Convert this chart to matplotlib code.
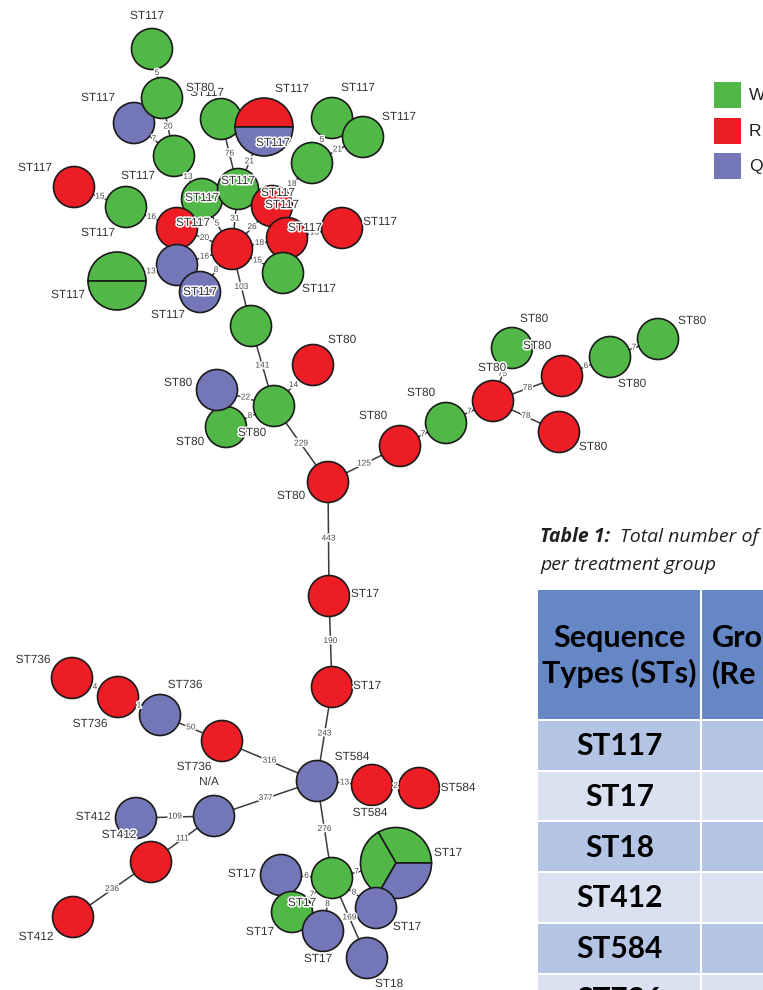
"""Minimum spanning tree of sequence types, coloured by treatment group,
with the legend and the first rows of Table 1 beside it."""

import matplotlib

matplotlib.use("Agg")
import matplotlib.pyplot as plt  # noqa: E402
import matplotlib.patheffects as pe  # noqa: E402
from matplotlib.patches import Circle, Rectangle, Wedge  # noqa: E402

# --- data -------------------------------------------------------------------
# isolates per node, one letter per isolate (W / R / Q treatment group)
node_ids = [f"n{i}" for i in range(1, 57)]
node_groups = ["W", "W", "Q", "W", "W", "RQ", "W", "W", "W", "W",
               "R", "R", "R", "R", "W", "W", "R", "W", "R", "Q",
               "Q", "WW", "W", "W", "R", "Q", "W", "R", "R", "R",
               "W", "R", "W", "R", "W", "W", "R", "R", "Q", "R",
               "R", "R", "Q", "R", "R", "Q", "Q", "R", "R", "W",
               "WWQ", "Q", "W", "Q", "Q", "Q"]

edge_src = ["n1", "n2", "n3", "n4", "n5", "n6", "n8", "n9", "n10", "n7",
            "n11", "n12", "n12", "n14", "n14", "n14", "n14", "n14", "n18", "n19",
            "n20", "n14", "n23", "n24", "n24", "n24", "n24", "n28", "n29", "n31",
            "n32", "n32", "n34", "n35", "n32", "n28", "n30", "n38", "n39", "n40",
            "n39", "n42", "n43", "n44", "n39", "n46", "n46", "n48", "n39", "n50",
            "n50", "n50", "n50", "n50", "n50"]
edge_dst = ["n2", "n4", "n4", "n16", "n7", "n7", "n10", "n10", "n11", "n14",
            "n14", "n14", "n13", "n15", "n21", "n20", "n17", "n16", "n17", "n18",
            "n22", "n23", "n24", "n25", "n26", "n27", "n28", "n29", "n31", "n32",
            "n33", "n34", "n35", "n36", "n37", "n30", "n38", "n39", "n40", "n41",
            "n42", "n43", "n44", "n45", "n46", "n47", "n48", "n49", "n50", "n51",
            "n52", "n53", "n54", "n55", "n56"]
edge_weight = [5, 20, 7, 13, 76, 21, 5, 21, 18, 31,
               26, 18, 15, 15, 8, 16, 20, 5, 16, 15,
               13, 103, 141, 14, 22, 8, 229, 125, 7, 7,
               75, 78, 6, 7, 78, 443, 190, 243, 13, 2,
               316, 50, 1, 4, 377, 109, 111, 236, 276, 7,
               6, 7, 8, 8, 169]

st_labels = ["ST117", "ST117", "ST117", "ST80", "ST117", "ST117", "ST117", "ST117",
             "ST117", "ST117", "ST117", "ST117", "ST117", "ST117", "ST117", "ST117",
             "ST117", "ST117", "ST117", "ST117", "ST117", "ST117",
             "ST80", "ST80", "ST80", "ST80", "ST80", "ST80", "ST17",
             "ST80", "ST80", "ST80", "ST80", "ST80", "ST80", "ST80",
             "ST17", "ST584", "ST584", "ST584", "ST736", "ST736", "ST736", "ST736",
             "N/A", "ST412", "ST412", "ST412",
             "ST17", "ST17", "ST17", "ST17", "ST17", "ST17", "ST18"]

legend_groups = ["W", "R", "Q"]

table_title_bold = "Table 1:"
table_title = "Total number of"
table_title_2 = "per treatment group"
table_header = ["Sequence\nTypes (STs)", "Group\n(Re"]
table_rows = ["ST117", "ST17", "ST18", "ST412", "ST584", "ST736"]

# --- layout (pixel space) ---------------------------------------------------
node_xy = {
    "n1": (152, 49), "n2": (162, 98), "n3": (134, 123), "n4": (174, 156),
    "n5": (221, 119), "n6": (264, 127), "n7": (238, 189), "n8": (332, 118),
    "n9": (363, 137), "n10": (312, 163), "n11": (272, 206), "n12": (287, 238),
    "n13": (342, 228), "n14": (232, 249), "n15": (283, 273), "n16": (202, 199),
    "n17": (177, 228), "n18": (126, 207), "n19": (74, 187), "n20": (177, 265),
    "n21": (200, 292), "n22": (117, 281), "n23": (251, 326), "n24": (274, 406),
    "n25": (313, 365), "n26": (217, 390), "n27": (226, 427), "n28": (328, 482),
    "n29": (400, 446), "n30": (329, 596), "n31": (446, 423), "n32": (493, 401),
    "n33": (512, 348), "n34": (562, 376), "n35": (610, 357), "n36": (658, 339),
    "n37": (559, 432), "n38": (332, 687), "n39": (317, 781), "n40": (372, 785),
    "n41": (419, 788), "n42": (222, 741), "n43": (160, 715), "n44": (118, 697),
    "n45": (72, 678), "n46": (214, 816), "n47": (136, 818), "n48": (151, 862),
    "n49": (73, 917), "n50": (332, 878), "n51": (396, 863), "n52": (281, 875),
    "n53": (292, 912), "n54": (323, 931), "n55": (376, 908), "n56": (367, 958),
}
# painting order, later nodes sit on top of earlier ones
draw_order = ["n1", "n3", "n2", "n4", "n5", "n6", "n8", "n9", "n10", "n16",
              "n7", "n11", "n12", "n13", "n18", "n19", "n17", "n20", "n21",
              "n22", "n14", "n15", "n23", "n24", "n25", "n27", "n26", "n28",
              "n29", "n31", "n33", "n32", "n34", "n35", "n36", "n37", "n30",
              "n38", "n39", "n40", "n41", "n42", "n45", "n44", "n43", "n46",
              "n47", "n48", "n49", "n51", "n52", "n50", "n53", "n54", "n55", "n56"]

label_xy = [(147, 16), (98, 98), (207, 93), (200, 88), (292, 89), (273, 143),
            (358, 88), (399, 117), (238, 181), (202, 198), (278, 193), (282, 205),
            (305, 228), (380, 222), (35, 168), (138, 176), (98, 233), (193, 223),
            (319, 289), (200, 292), (168, 315), (68, 295),
            (342, 340), (178, 383), (190, 442), (252, 433), (291, 496), (373, 416),
            (365, 594),
            (421, 393), (492, 368), (534, 319), (537, 346), (632, 384), (692, 321),
            (593, 447),
            (367, 686), (352, 757), (370, 813), (458, 788), (194, 767), (185, 685),
            (90, 724), (33, 660),
            (209, 782), (93, 817), (119, 835), (36, 937),
            (448, 853), (242, 874), (302, 903), (260, 932), (318, 959), (407, 927),
            (389, 984)]

COLORS = {"W": "#51b848", "R": "#ec1d24", "Q": "#7376b7"}
R0 = 20.5  # radius of a single-isolate node

plt.rcParams["font.family"] = ["Liberation Sans", "DejaVu Sans"]
halo = [pe.withStroke(linewidth=2.2, foreground="white")]

fig = plt.figure(figsize=(7.63, 9.90), dpi=100)
ax = fig.add_axes([0, 0, 1, 1])
ax.set_xlim(0, 763)
ax.set_ylim(990, 0)
ax.axis("off")

groups = dict(zip(node_ids, node_groups))


def radius(nid):
    # area grows with number of isolates
    return R0 * len(groups[nid]) ** 0.5


# edges
for a, b in zip(edge_src, edge_dst):
    (x1, y1), (x2, y2) = node_xy[a], node_xy[b]
    ax.plot([x1, x2], [y1, y2], color="#3a3a3a", lw=1.1, zorder=1)

# nodes, one slice per isolate
z = 2
for nid in draw_order:
    comp = groups[nid]
    x, y = node_xy[nid]
    r = radius(nid)
    if len(comp) == 1:
        ax.add_patch(Circle((x, y), r, facecolor=COLORS[comp], edgecolor="#1a1a1a",
                            lw=1.2, zorder=z))
    else:
        step = 360 / len(comp)
        for i, g in enumerate(comp):
            # y axis is flipped, so angles run clockwise on screen: negate them
            ax.add_patch(Wedge((x, y), r, -(i + 1) * step, -i * step,
                               facecolor=COLORS[g], edgecolor="#1a1a1a", lw=1.2, zorder=z))
    z += 0.01

# edge weights, centred on the gap between the two circles
for a, b, w in zip(edge_src, edge_dst, edge_weight):
    (x1, y1), (x2, y2) = node_xy[a], node_xy[b]
    d = ((x2 - x1) ** 2 + (y2 - y1) ** 2) ** 0.5
    ra, rb = radius(a), radius(b)
    t = (ra + (d - ra - rb) / 2) / d
    ax.text(x1 + t * (x2 - x1), y1 + t * (y2 - y1), str(w), fontsize=6,
            color="#4a4a4a", ha="center", va="center", zorder=4, path_effects=halo)

# sequence-type labels
for txt, (lx, ly) in zip(st_labels, label_xy):
    ax.text(lx, ly, txt, fontsize=8.5, color="#333333", ha="center", va="center",
            zorder=5, path_effects=halo)

# legend
for i, g in enumerate(legend_groups):
    y0 = 82 + i * 35.5
    ax.add_patch(Rectangle((714, y0), 27, 26, facecolor=COLORS[g], edgecolor="none"))
    ax.text(749, y0 + 13.5, g, fontsize=12.5, color="#231f20", ha="left", va="center")

# table caption
ax.text(540, 537, table_title_bold, fontsize=14, fontweight="bold", style="italic",
        family="Open Sans", color="#231f20", ha="left", va="center")
ax.text(620, 537, table_title, fontsize=14, style="italic", family="Open Sans",
        color="#231f20", ha="left", va="center")
ax.text(540, 565, table_title_2, fontsize=14, style="italic", family="Open Sans",
        color="#231f20", ha="left", va="center")

# table body
col_x = [538, 701, 900]
ax.add_patch(Rectangle((col_x[0], 590), col_x[2] - col_x[0], 129,
                       facecolor="#6587c6", edgecolor="none", zorder=1))
ax.plot([col_x[1], col_x[1]], [590, 990], color="white", lw=1.5, zorder=2)
ax.text((col_x[0] + col_x[1]) / 2, 656, table_header[0], fontsize=22,
        fontweight="bold", family="Lato", ha="center", va="center",
        linespacing=1.32, color="black", zorder=3)
ax.text(712, 656, table_header[1], fontsize=22, fontweight="bold", family="Lato",
        ha="left", va="center", linespacing=1.32, color="black", zorder=3)

row_top, row_h = 720, 50.7
for i, st in enumerate(table_rows):
    y0 = row_top + i * row_h
    face = "#b4c4e4" if i % 2 == 0 else "#dae2f1"
    ax.add_patch(Rectangle((col_x[0], y0 + 1), col_x[2] - col_x[0], row_h - 2,
                           facecolor=face, edgecolor="none", zorder=1))
    ax.text((col_x[0] + col_x[1]) / 2, y0 + row_h / 2 + 1, st, fontsize=21.5,
            fontweight="bold", family="Lato", ha="center", va="center",
            color="black", zorder=3)

fig.savefig("out.png", dpi=100)
